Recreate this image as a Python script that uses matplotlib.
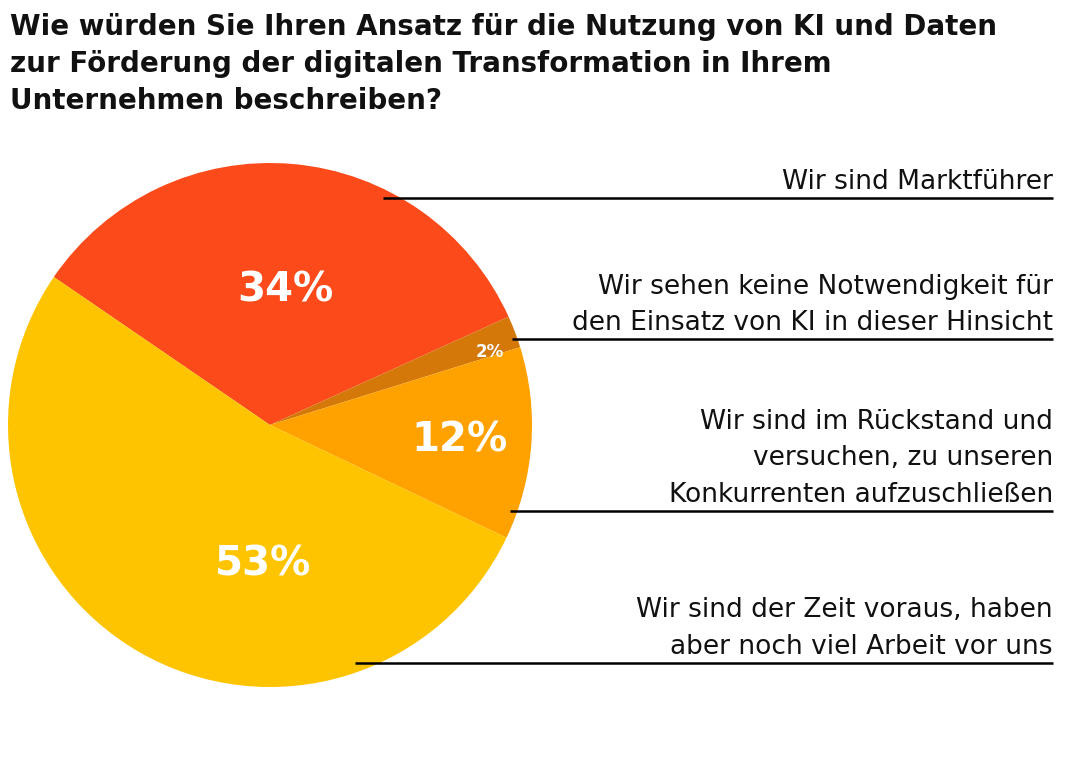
import matplotlib.pyplot as plt

title = ("Wie würden Sie Ihren Ansatz für die Nutzung von KI und Daten\n"
         "zur Förderung der digitalen Transformation in Ihrem\n"
         "Unternehmen beschreiben?")

labels = [
    ["Wir sind Marktführer"],
    ["Wir sehen keine Notwendigkeit für", "den Einsatz von KI in dieser Hinsicht"],
    ["Wir sind im Rückstand und", "versuchen, zu unseren", "Konkurrenten aufzuschließen"],
    ["Wir sind der Zeit voraus, haben", "aber noch viel Arbeit vor uns"],
]
values = [34, 2, 12, 53]
colors = ["#FC4A1A", "#D4780A", "#FFA200", "#FFC400"]

W, H = 1072, 760
fig = plt.figure(figsize=(W / 100, H / 100), dpi=100)
ax = fig.add_axes([0, 0, 1, 1])

fam = ["DejaVu Sans"]

cx, cy, r = 270, H - 425, 262
ax.pie(values, colors=colors, startangle=145.6, counterclock=False,
       center=(cx, cy), radius=r, frame=True)
ax.set_xlim(0, W)
ax.set_ylim(0, H)
ax.set_aspect("equal")
ax.axis("off")

# Prozentwerte im Kreis
pct_pos = [(285, 290, 29), (490, 352, 12), (460, 440, 29), (263, 565, 29)]
for v, (px, py, fs) in zip(values, pct_pos):
    ax.text(px, H - py, f"{v}%", color="white", fontsize=fs, fontweight="bold",
            ha="center", va="center", family=fam)

# Beschriftungen mit Linien
line_y = [198, 339, 511, 663]
line_x0 = [383, 512, 510, 355]
for lines, ly, lx in zip(labels, line_y, line_x0):
    ax.plot([lx, 1053], [H - ly, H - ly], color="black", lw=1.8, solid_capstyle="butt")
    n = len(lines)
    for i, t in enumerate(lines):
        base = ly - 9 - (n - 1 - i) * 36.5
        ax.text(1053, H - base, t, fontsize=19, ha="right", va="baseline",
                family=fam, color="#111111")

fig.text(10 / W, 1 - 13 / H, title, fontsize=20, fontweight="bold", ha="left",
         va="top", family=fam, linespacing=1.4, color="#111111")

fig.savefig("out.png", dpi=100)
